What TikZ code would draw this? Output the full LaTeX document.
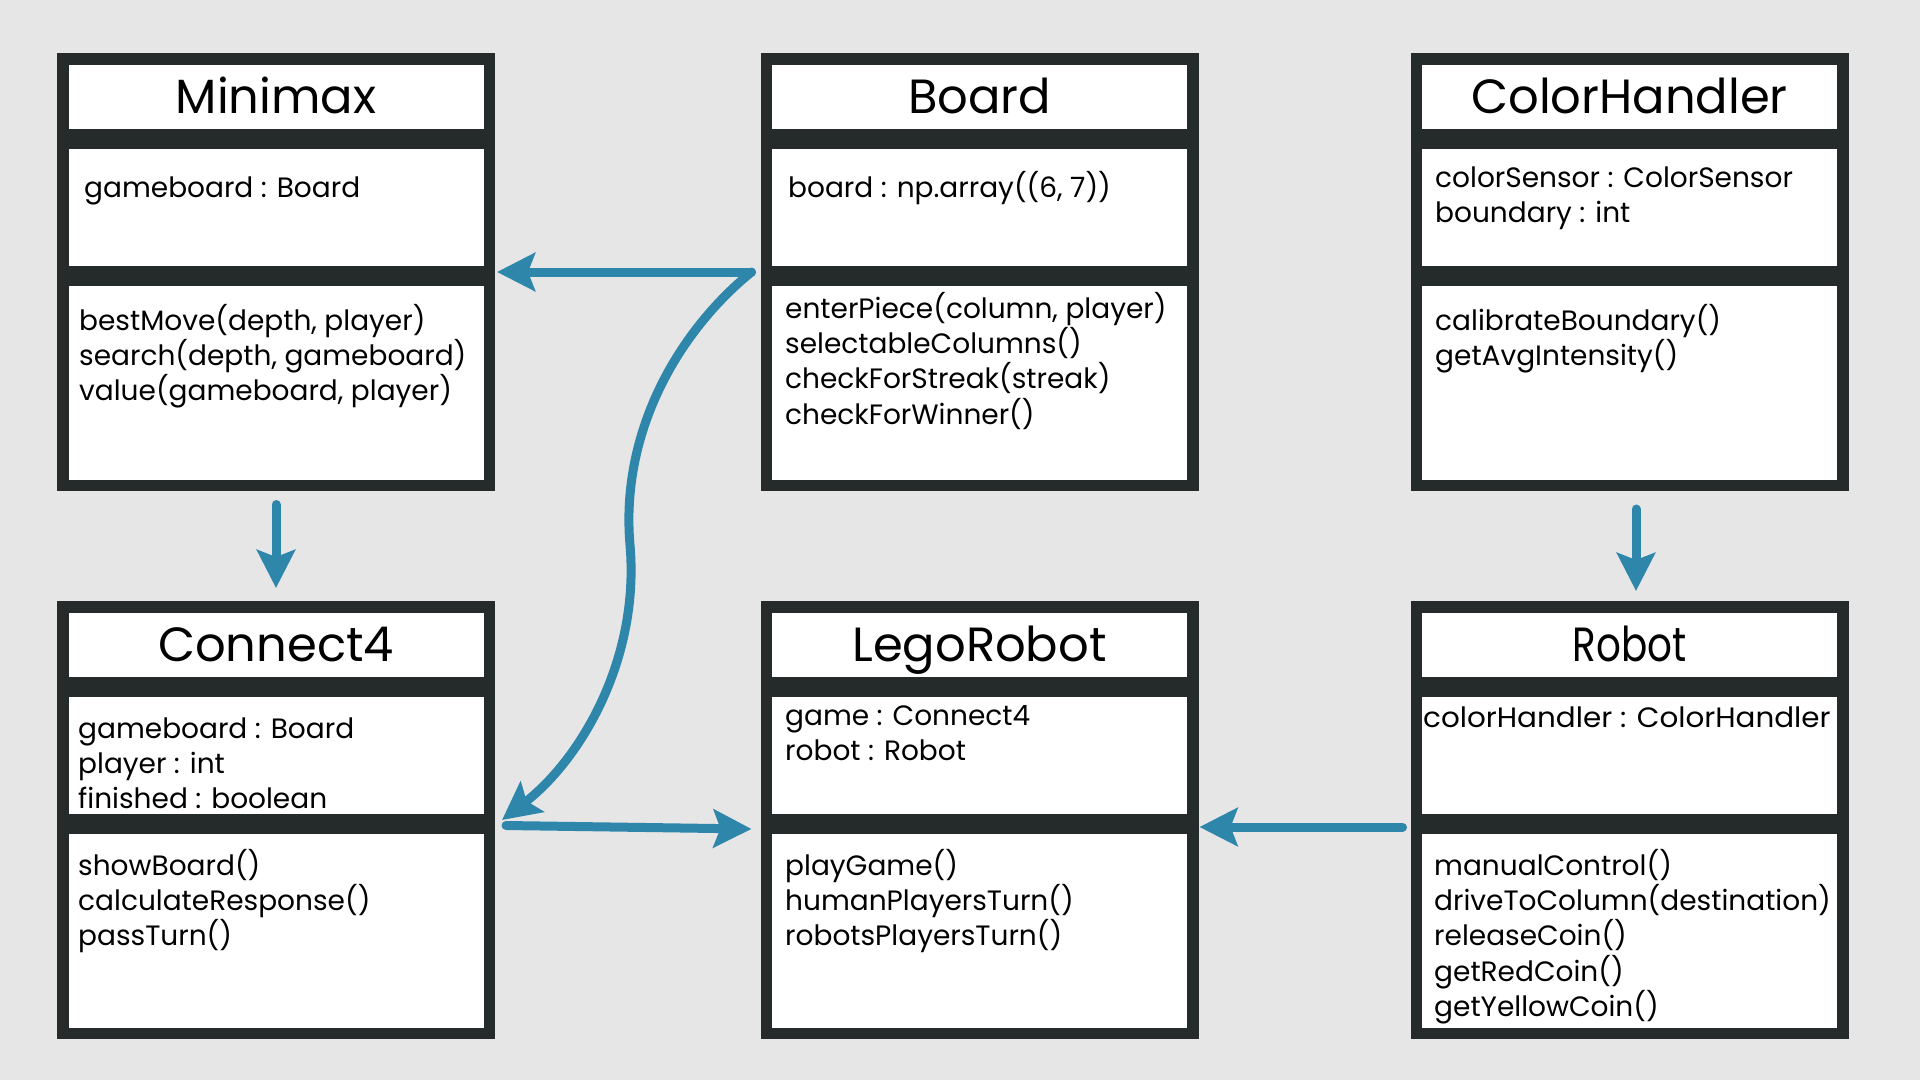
\documentclass[tikz,border=0pt]{standalone}
\usepackage{fontspec}
\setmainfont{Poppins}
\usetikzlibrary{arrows.meta}
\definecolor{canvas}{HTML}{E6E6E6}
\definecolor{boxdark}{HTML}{252B2B}
\definecolor{linkblue}{HTML}{2E86AB}
% member list, baseline on its first line, fixed line distance
\newcommand{\memberlist}[1]{\vtop{\lineskiplimit=-\maxdimen\def\\{\cr}\halign{##\hfil\cr#1\crcr}}}

\begin{document}
\begin{tikzpicture}[
    x=1pt, y=-1pt,
    frame/.style={
        fill=boxdark, inner sep=0pt, outer sep=0pt,
        minimum width=438pt, minimum height=438pt
    },
    namecell/.style={
        fill=white, inner sep=0pt, minimum width=415pt, minimum height=64pt,
        font=\fontsize{48}{50}\selectfont, text height=32pt, text depth=0pt
    },
    attrcell/.style={fill=white, minimum width=415pt, minimum height=117pt},
    methcell/.style={fill=white, minimum width=415pt, minimum height=194pt},
    member/.style={
        anchor=base west, inner sep=0pt,
        font=\fontsize{28}{35.4}\selectfont
    },
    link/.style={
        draw=linkblue, line width=9pt, line cap=round,
        -{Stealth[length=38pt, width=38pt, inset=7pt]}
    }
]

% Canvas
\fill[canvas] (0,0) rectangle (1920,1080);

% Top row: Minimax - Board - ColorHandler
\node[frame]    (minimax)     at (276,272) {};
\node[namecell] (minimaxName) at ([yshift=-44pt]minimax.north) {Minimax};
\node[attrcell] (minimaxAttr) at ([yshift=-154.5pt]minimax.north) {};
\node[methcell] (minimaxMeth) at ([yshift=-330pt]minimax.north) {};
\node[member]   (minimaxA)    at (84,197) {gameboard : Board};
\node[member]   (minimaxM)    at (79,330)
    {\memberlist{bestMove(depth, player)\\search(depth, gameboard)\\value(gameboard, player)}};

\node[frame]    (board)     at (979.5,272) {};
\node[namecell] (boardName) at ([yshift=-44pt]board.north) {Board};
\node[attrcell] (boardAttr) at ([yshift=-154.5pt]board.north) {};
\node[methcell] (boardMeth) at ([yshift=-330pt]board.north) {};
\node[member]   (boardA)    at (788,197) {board : np.array((6, 7))};
\node[member]   (boardM)    at (785,318)
    {\memberlist{enterPiece(column, player)\\selectableColumns()\\checkForStreak(streak)\\checkForWinner()}};

\node[frame]    (colorhandler)     at (1629.5,272) {};
\node[namecell] (colorhandlerName) at ([yshift=-44pt]colorhandler.north) {ColorHandler};
\node[attrcell] (colorhandlerAttr) at ([yshift=-154.5pt]colorhandler.north) {};
\node[methcell] (colorhandlerMeth) at ([yshift=-330pt]colorhandler.north) {};
\node[member]   (colorhandlerA)    at (1435,187)
    {\memberlist{colorSensor : ColorSensor\\boundary : int}};
\node[member]   (colorhandlerM)    at (1435,330)
    {\memberlist{calibrateBoundary()\\getAvgIntensity()}};

% Bottom row: Connect4 - LegoRobot - Robot
\node[frame]    (connect4)     at (276,820) {};
\node[namecell] (connect4Name) at ([yshift=-44pt]connect4.north) {Connect4};
\node[attrcell] (connect4Attr) at ([yshift=-154.5pt]connect4.north) {};
\node[methcell] (connect4Meth) at ([yshift=-330pt]connect4.north) {};
\node[member]   (connect4A)    at (78,738)
    {\memberlist{gameboard : Board\\player : int\\finished : boolean}};
\node[member]   (connect4M)    at (78,875)
    {\memberlist{showBoard()\\calculateResponse()\\passTurn()}};

\node[frame]    (legorobot)     at (979.5,820) {};
\node[namecell] (legorobotName) at ([yshift=-44pt]legorobot.north) {LegoRobot};
\node[attrcell] (legorobotAttr) at ([yshift=-154.5pt]legorobot.north) {};
\node[methcell] (legorobotMeth) at ([yshift=-330pt]legorobot.north) {};
\node[member]   (legorobotA)    at (785,725)
    {\memberlist{game : Connect4\\robot : Robot}};
\node[member]   (legorobotM)    at (785,875)
    {\memberlist{playGame()\\humanPlayersTurn()\\robotsPlayersTurn()}};

\node[frame]    (robot)     at (1629.5,820) {};
\node[namecell] (robotName) at ([yshift=-44pt]robot.north) {\scalebox{0.81}[1]{Robot}};
\node[attrcell] (robotAttr) at ([yshift=-154.5pt]robot.north) {};
\node[methcell] (robotMeth) at ([yshift=-330pt]robot.north) {};
\node[member]   (robotA)    at (1423,727) {\scalebox{1.05}[1]{colorHandler : ColorHandler}};
\node[member]   (robotM)    at (1434,875)
    {\memberlist{manualControl()\\driveToColumn(destination)\\releaseCoin()\\getRedCoin()\\getYellowCoin()}};

% Connectors
\draw[link] ([xshift=-9pt]board.west) -- ([xshift=2pt]minimax.east);
\draw[link] ([xshift=-9pt]board.west)
    .. controls (680,330) and (620,430) .. (630,545)
    .. controls (640,660) and (580,760) .. ([xshift=7pt]connect4.east);
\draw[link] ([xshift=11pt,yshift=-5.5pt]connect4.east) -- ([xshift=-9pt,yshift=-9pt]legorobot.west);
\draw[link] ([xshift=-8pt,yshift=-7pt]robot.west) -- ([xshift=1pt,yshift=-7pt]legorobot.east);
\draw[link] ([yshift=-13.5pt]minimax.south) -- ([yshift=13pt]connect4.north);
\draw[link] ([xshift=6.5pt,yshift=-18pt]colorhandler.south) -- ([xshift=6.5pt,yshift=10pt]robot.north);

\end{tikzpicture}
\end{document}
